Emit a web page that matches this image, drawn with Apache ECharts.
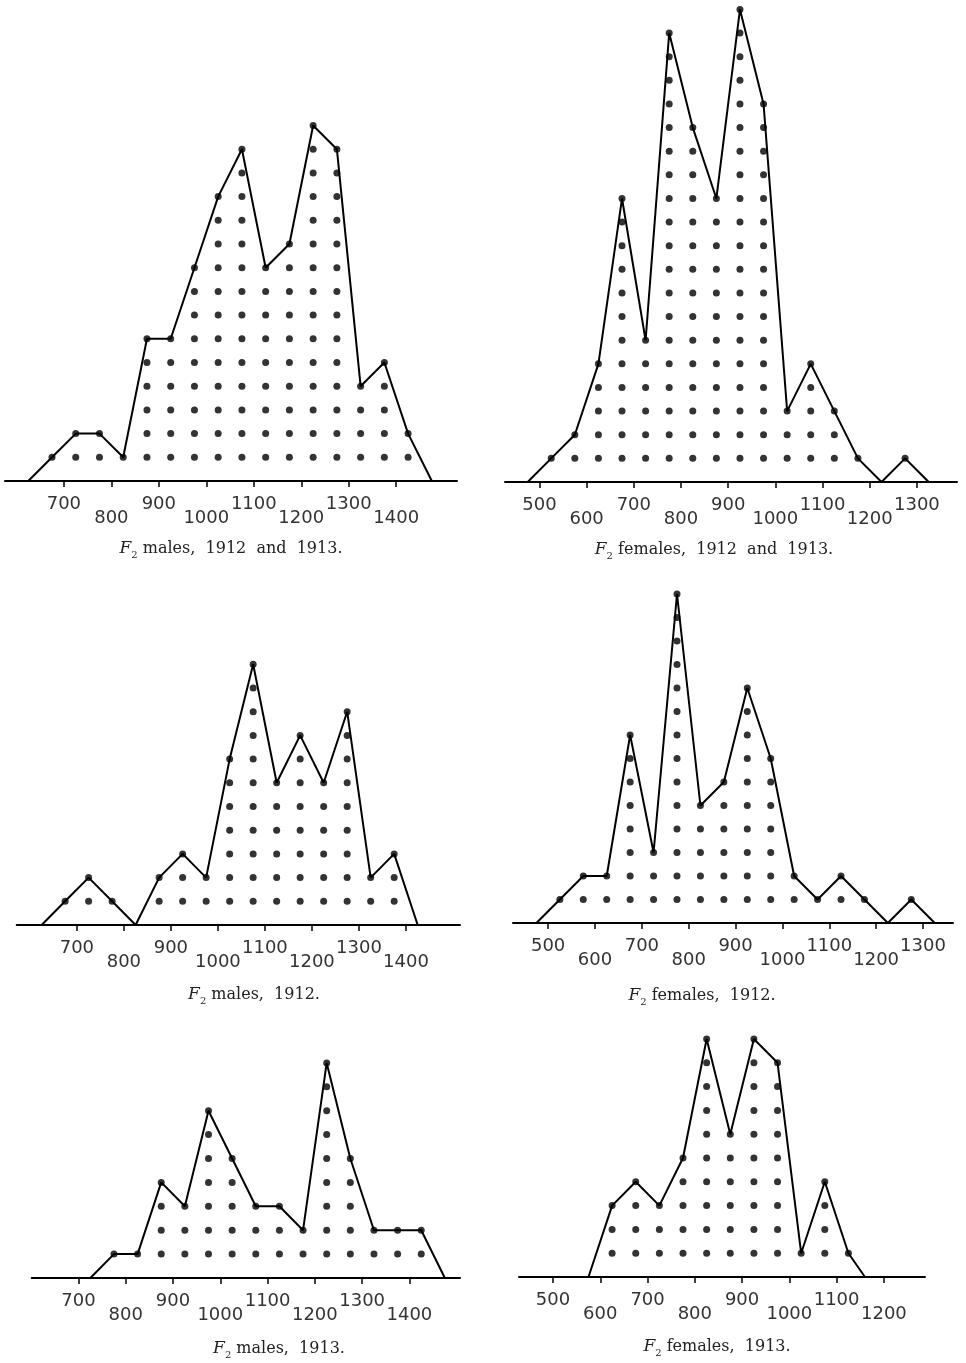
<!DOCTYPE html>
<html>
<head>
<meta charset="utf-8">
<script src="https://cdn.jsdelivr.net/npm/echarts@6/dist/echarts.min.js"></script>
<style>
  html, body { margin: 0; padding: 0; background: #fff; }
  #chart { width: 966px; height: 1363px; }
</style>
</head>
<body>
<div id="chart"></div>
<script>
// ---- DATA (class midpoints in grams, number of individuals per class) ----
const malesBothX   = [625, 675, 725, 775, 825, 875, 925, 975, 1025, 1075, 1125, 1175, 1225, 1275, 1325, 1375, 1425, 1475];
const malesBoth    = [0, 1, 2, 2, 1, 6, 6, 9, 12, 14, 9, 10, 15, 14, 4, 5, 2, 0];

const females1912_13X = [475, 525, 575, 625, 675, 725, 775, 825, 875, 925, 975, 1025, 1075, 1125, 1175, 1225, 1275, 1325];
const femalesBoth     = [0, 1, 2, 5, 12, 6, 19, 15, 12, 20, 16, 3, 5, 3, 1, 0, 1, 0];

const males1912X   = [625, 675, 725, 775, 825, 875, 925, 975, 1025, 1075, 1125, 1175, 1225, 1275, 1325, 1375, 1425];
const males1912    = [0, 1, 2, 1, 0, 2, 3, 2, 7, 11, 6, 8, 6, 9, 2, 3, 0];

const females1912X = [475, 525, 575, 625, 675, 725, 775, 825, 875, 925, 975, 1025, 1075, 1125, 1175, 1225, 1275, 1325];
const females1912  = [0, 1, 2, 2, 8, 3, 14, 5, 6, 10, 7, 2, 1, 2, 1, 0, 1, 0];

const males1913X   = [725, 775, 825, 875, 925, 975, 1025, 1075, 1125, 1175, 1225, 1275, 1325, 1375, 1425, 1475];
const males1913    = [0, 1, 1, 4, 3, 7, 5, 3, 3, 2, 9, 5, 2, 2, 2, 0];

const females1913X = [575, 625, 675, 725, 775, 825, 875, 925, 975, 1025, 1075, 1125, 1160];
const females1913  = [0, 3, 4, 3, 5, 10, 6, 10, 9, 1, 4, 1, 0];

// tick labels
const maleTicks   = [700, 800, 900, 1000, 1100, 1200, 1300, 1400];
const femaleTicks = [500, 600, 700, 800, 900, 1000, 1100, 1200, 1300];
const female1913Ticks = [500, 600, 700, 800, 900, 1000, 1100, 1200];

// captions
const captions = [
  ' males,  1912  and  1913.',
  ' females,  1912  and  1913.',
  ' males,  1912.',
  ' females,  1912.',
  ' males,  1913.',
  ' females,  1913.'
];

// ---- LAYOUT ----
const panels = [
  { xs: malesBothX, ys: malesBoth, ticks: maleTicks, min: 576, max: 1528, left: 5, width: 452, base: 481, unit: 23.7, capX: 231, capY: 549 },
  { xs: females1912_13X, ys: femalesBoth, ticks: femaleTicks, min: 427, max: 1385, left: 505, width: 452, base: 482, unit: 23.7, capX: 714, capY: 550 },
  { xs: males1912X, ys: males1912, ticks: maleTicks, min: 572, max: 1515, left: 16.7, width: 443.3, base: 925, unit: 23.7, capX: 254, capY: 995 },
  { xs: females1912X, ys: females1912, ticks: femaleTicks, min: 425, max: 1364, left: 513, width: 440, base: 923, unit: 23.5, capX: 702, capY: 996 },
  { xs: males1913X, ys: males1913, ticks: maleTicks, min: 601, max: 1507, left: 31.7, width: 428.3, base: 1278, unit: 23.9, capX: 279, capY: 1349 },
  { xs: females1913X, ys: females1913, ticks: female1913Ticks, min: 428, max: 1287, left: 519, width: 406, base: 1277, unit: 23.8, capX: 717, capY: 1347 }
];

const grids = [], xAxes = [], yAxes = [], series = [], graphics = [];
const labelFont = 'DejaVu Sans';
const serif = 'DejaVu Serif';

panels.forEach((p, i) => {
  const yMax = Math.max(...p.ys) + 0.4;
  const h = yMax * p.unit;
  grids.push({ left: p.left, width: p.width, top: p.base - h, height: h, containLabel: false });
  xAxes.push({
    gridIndex: i, type: 'value', min: p.min, max: p.max,
    axisLine: { show: true, onZero: false, lineStyle: { color: '#000', width: 2 } },
    axisTick: { show: true, customValues: p.ticks, length: 6, lineStyle: { color: '#000', width: 1.5 } },
    axisLabel: {
      show: true, customValues: p.ticks, margin: 14, color: '#333',
      fontFamily: labelFont, fontSize: 18,
      formatter: v => ((v / 100) % 2 === 1 ? '{hi|' + v + '}' : '{lo|' + v + '}'),
      rich: {
        hi: { fontFamily: labelFont, fontSize: 18, color: '#333', padding: [0, 0, 14, 0] },
        lo: { fontFamily: labelFont, fontSize: 18, color: '#333', padding: [14, 0, 0, 0] }
      }
    },
    splitLine: { show: false }
  });
  yAxes.push({ gridIndex: i, type: 'value', min: 0, max: yMax, show: false, splitLine: { show: false } });

  const poly = p.xs.map((x, j) => [x, p.ys[j]]);
  series.push({
    type: 'line', xAxisIndex: i, yAxisIndex: i, data: poly,
    symbol: 'none', lineStyle: { color: '#000', width: 2 }, silent: true, animation: false
  });
  const dots = [];
  p.xs.forEach((x, j) => { for (let k = 1; k <= p.ys[j]; k++) dots.push([x, k]); });
  series.push({
    type: 'scatter', xAxisIndex: i, yAxisIndex: i, data: dots,
    symbol: 'circle', symbolSize: 7, itemStyle: { color: '#000' }, silent: true, animation: false
  });

  graphics.push({
    type: 'text', x: p.capX, y: p.capY,
    style: {
      text: '{f|F}{s|2}{t|' + captions[i] + '}',
      align: 'center', verticalAlign: 'middle', textAlign: 'center', textVerticalAlign: 'middle',
      fill: '#222',
      rich: {
        f: { fontFamily: serif, fontStyle: 'italic', fontSize: 17, fill: '#222', lineHeight: 22 },
        s: { fontFamily: serif, fontSize: 10, fill: '#222', verticalAlign: 'bottom', lineHeight: 22 },
        t: { fontFamily: serif, fontSize: 16, fill: '#222', lineHeight: 22 }
      }
    }
  });
});

const chart = echarts.init(document.getElementById('chart'), null, { renderer: 'canvas' });
chart.setOption({
  backgroundColor: '#fff',
  animation: false,
  grid: grids,
  xAxis: xAxes,
  yAxis: yAxes,
  series: series,
  graphic: graphics
});
</script>
</body>
</html>
